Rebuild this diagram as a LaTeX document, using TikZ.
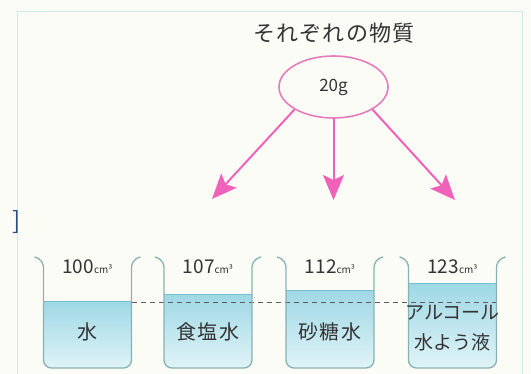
\documentclass[tikz,border=0pt]{standalone}
\usepackage{fontspec}
\setmainfont{Noto Sans CJK JP}
\usetikzlibrary{arrows.meta,calc,shapes}
\definecolor{fond}{HTML}{FCFCF7}
\definecolor{cadre}{HTML}{CFEAEA}
\definecolor{rose}{HTML}{F062BA}
\definecolor{roseclair}{HTML}{E67CBC}
\definecolor{contour}{HTML}{86B2B2}
\definecolor{liqhaut}{HTML}{9FD8E5}
\definecolor{liqbas}{HTML}{E0F3F7}
\definecolor{menisque}{HTML}{72C0D0}
\definecolor{texte}{HTML}{333333}
\definecolor{bleu}{HTML}{2B4C8C}
\tikzset{
	becher/.style={draw=contour,line width=1.3pt,rounded corners=8pt},
	fleche/.style={draw=rose,line width=2pt,-{Stealth[length=25pt,width=21pt,inset=5pt]}},
	volume/.style={text=texte,inner sep=0pt,font=\fontsize{19}{19}\selectfont},
	liquide/.style={text=texte,inner sep=0pt,align=center,font=\fontsize{20}{30}\selectfont\addfontfeature{LetterSpace=6}},
}
\begin{document}
\begin{tikzpicture}[x=1pt,y=-1pt]
				\useasboundingbox (0,0) rectangle (531,374);
				\fill[fond] (0,0) rectangle (531,374);
				% Cadre
				\draw[cadre,line width=1pt] (17,374) -- (17,12) -- (522,12) -- (522,374);
				\node[text=bleu,inner sep=0pt,font=\fontsize{24}{24}\selectfont] (crochet) at (17,222) {]};
				% Béchers
				\foreach \x/\h in {87.5/302, 208/295, 330/291, 452.5/284}{
					\begin{scope}
						\clip[rounded corners=8pt] (\x-44,250) rectangle (\x+44,368);
						\shade[top color=liqhaut,bottom color=liqbas] (\x-44,\h) rectangle (\x+44,368);
					\end{scope}
					\draw[menisque,line width=1pt] (\x-44,\h) -- (\x+44,\h);
				}
				\coordinate (niv1) at (132,302);
				\coordinate (niv4) at (497,302);
				\draw[texte!80,line width=0.9pt,dash pattern=on 5pt off 4pt] (niv1) -- (niv4);
				\foreach \x in {87.5, 208, 330, 452.5}{
					\draw[becher] (\x-53,257) .. controls (\x-45,259) and (\x-44,265) .. (\x-44,276) -- (\x-44,368) -- (\x+44,368) -- (\x+44,276) .. controls (\x+44,265) and (\x+45,259) .. (\x+53,257);
				}
				\node[volume] (v1) at (87.5,267) {100{\fontsize{10}{10}\selectfont cm³}};
				\node[volume] (v2) at (208,267) {107{\fontsize{10}{10}\selectfont cm³}};
				\node[volume] (v3) at (330,267) {112{\fontsize{10}{10}\selectfont cm³}};
				\node[volume] (v4) at (452.5,267) {123{\fontsize{10}{10}\selectfont cm³}};
				\node[liquide] (l1) at (87.5,332) {水};
				\node[liquide] (l2) at (208,332) {食塩水};
				\node[liquide] (l3) at (330,332) {砂糖水};
				\node[liquide,font=\fontsize{19}{30}\selectfont] (l4) at (452.5,328) {アルコール\\水よう液};
				% Substance
				\node[text=texte,inner sep=0pt,font=\fontsize{22}{22}\selectfont\addfontfeature{LetterSpace=5}] (titre) at (334,33) {それぞれの物質};
				\node[ellipse,draw=roseclair,line width=1.6pt,minimum width=109pt,minimum height=62pt,inner sep=0pt,text=texte,font=\fontsize{17}{17}\selectfont] (masse) at (333.5,87) {20g};
				% Flèches
				\coordinate (p1) at (212,199);
				\coordinate (p2) at (333.5,200);
				\coordinate (p3) at (455,200);
				\draw[fleche] (masse.-150) -- (p1);
				\draw[fleche] (masse.south) -- (p2);
				\draw[fleche] (masse.-30) -- (p3);
\end{tikzpicture}
\end{document}
